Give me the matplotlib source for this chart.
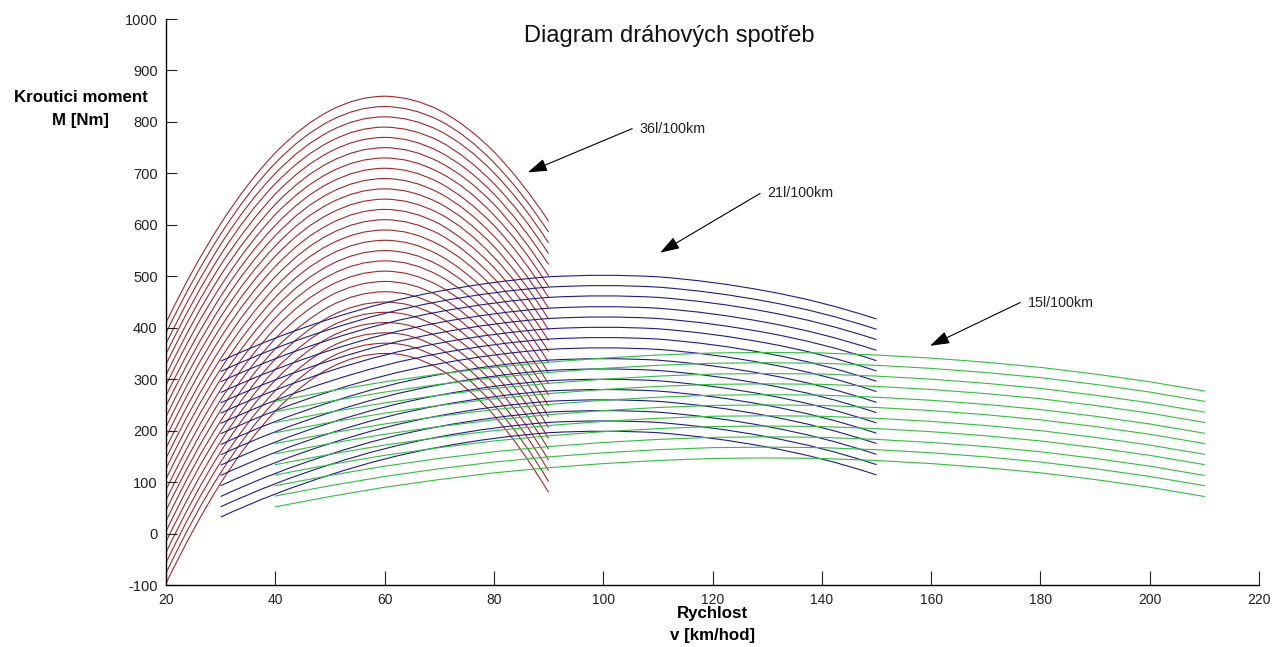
import matplotlib
matplotlib.use("Agg")
import matplotlib.pyplot as plt
from matplotlib.path import Path
from matplotlib.patches import PathPatch

# torque [Nm] along speed [km/h] for lines of constant consumption per distance
RED_V = [20, 25, 30, 35, 40, 45, 50, 55, 60, 65, 70, 75, 80, 85, 90]
RED_M = [
    [410, 513, 602, 678, 740, 788, 822, 843, 850, 843, 823, 789, 742, 681, 607],
    [390, 493, 582, 658, 720, 768, 802, 823, 830, 823, 803, 769, 721, 660, 586],
    [369, 472, 562, 638, 700, 748, 782, 803, 810, 803, 783, 749, 701, 640, 565],
    [349, 452, 542, 618, 680, 728, 762, 783, 790, 783, 763, 728, 680, 619, 544],
    [329, 432, 522, 597, 660, 708, 742, 763, 770, 763, 742, 708, 660, 598, 523],
    [308, 412, 502, 577, 640, 688, 722, 743, 750, 743, 722, 688, 640, 577, 501],
    [288, 392, 481, 557, 620, 668, 702, 723, 730, 723, 702, 668, 619, 557, 480],
    [268, 371, 461, 537, 599, 648, 682, 703, 710, 703, 682, 647, 599, 536, 459],
    [248, 351, 441, 517, 579, 628, 662, 683, 690, 683, 662, 627, 578, 515, 438],
    [227, 331, 421, 497, 559, 608, 642, 663, 670, 663, 642, 607, 558, 494, 417],
    [207, 311, 401, 477, 539, 588, 622, 643, 650, 643, 622, 587, 537, 474, 396],
    [187, 291, 381, 457, 519, 568, 602, 623, 630, 623, 602, 566, 517, 453, 375],
    [166, 270, 360, 437, 499, 548, 582, 603, 610, 603, 582, 546, 496, 432, 354],
    [146, 250, 340, 416, 479, 528, 562, 583, 590, 583, 561, 526, 476, 411, 333],
    [126, 230, 320, 396, 459, 508, 542, 563, 570, 563, 541, 505, 455, 391, 312],
    [106, 210, 300, 376, 439, 488, 522, 543, 550, 543, 521, 485, 435, 370, 291],
    [85, 189, 280, 356, 419, 468, 502, 523, 530, 523, 501, 465, 414, 349, 269],
    [65, 169, 260, 336, 399, 448, 482, 503, 510, 503, 481, 445, 394, 328, 248],
    [45, 149, 240, 316, 379, 427, 462, 483, 490, 483, 461, 424, 373, 308, 227],
    [24, 129, 219, 296, 359, 407, 442, 463, 470, 463, 441, 404, 353, 287, 206],
    [4, 109, 199, 276, 339, 387, 422, 443, 450, 443, 421, 384, 332, 266, 185],
    [-16, 88, 179, 256, 319, 367, 402, 423, 430, 423, 400, 364, 312, 245, 164],
    [-37, 68, 159, 236, 298, 347, 382, 403, 410, 403, 380, 343, 291, 224, 143],
    [-57, 48, 139, 215, 278, 327, 362, 383, 390, 383, 360, 323, 271, 204, 122],
    [-77, 28, 118, 195, 258, 307, 342, 363, 370, 363, 340, 303, 250, 183, 101],
    [-97, 7, 98, 175, 238, 287, 322, 343, 350, 343, 320, 282, 230, 162, 80],
]

BLUE_V = [30, 40, 50, 60, 70, 80, 90, 100, 110, 120, 130, 140, 150]
BLUE_TOP = [335, 380, 417, 448, 471, 488, 499, 502, 499, 488, 471, 448, 417]
BLUE_SHIFT = [0, 20, 40, 61, 81, 101, 121, 141, 162, 182, 202, 222, 242, 263, 283, 303]

GREEN_V = [40, 50, 60, 70, 80, 90, 100, 110, 120, 130,
           140, 150, 160, 170, 180, 190, 200, 210]
GREEN_TOP = [257, 277, 295, 310, 323, 333, 341, 347, 351, 352,
             351, 347, 341, 333, 323, 310, 295, 277]
GREEN_SHIFT = [0, 20, 41, 61, 82, 102, 123, 143, 164, 184, 205]

# label, arrow tip (v, M), text anchor (v, M)
NOTES = [
    ("36l/100km", (86.2, 702), (105.3, 787)),
    ("21l/100km", (110.4, 546), (128.7, 661)),
    ("15l/100km", (159.8, 365), (176.3, 449)),
]

plt.rcParams["font.family"] = ["Liberation Sans", "DejaVu Sans"]
plt.rcParams["axes.unicode_minus"] = False


def arc_path(xs, ys):
    # quadratic segments through every three consecutive samples
    verts = [(xs[0], ys[0])]
    codes = [Path.MOVETO]
    for k in range(0, len(xs) - 2, 2):
        cy = 2 * ys[k + 1] - (ys[k] + ys[k + 2]) / 2
        verts += [(xs[k + 1], cy), (xs[k + 2], ys[k + 2])]
        codes += [Path.CURVE3, Path.CURVE3]
    return Path(verts, codes)


fig = plt.figure(figsize=(12.75, 6.47), dpi=100)
ax = fig.add_axes([0.1302, 0.0958, 0.8573, 0.8748])

lw = 0.8
for row in RED_M:
    ax.add_patch(PathPatch(arc_path(RED_V, row), fill=False,
                           edgecolor="#a3262a", lw=lw))
for s in BLUE_SHIFT:
    ax.add_patch(PathPatch(arc_path(BLUE_V, [m - s for m in BLUE_TOP]),
                           fill=False, edgecolor="#1d1d8a", lw=lw))
for s in GREEN_SHIFT:
    ax.plot(GREEN_V, [m - s for m in GREEN_TOP], color="#2cc23a", lw=lw)

for txt, tip, tail in NOTES:
    ax.annotate("", xy=tip, xytext=tail,
                arrowprops=dict(arrowstyle="-|>,head_length=0.85,head_width=0.28",
                                color="black", lw=0.8, mutation_scale=14,
                                shrinkA=0, shrinkB=0))
    ax.text(tail[0] + 1.4, tail[1], txt, fontsize=10.3, color="#222222",
            va="center", ha="left")

ax.set_xlim(20, 220)
ax.set_ylim(-100, 1000)
ax.set_xticks(range(20, 221, 20))
ax.set_yticks(range(-100, 1001, 100))
for side in ("top", "right"):
    ax.spines[side].set_visible(False)
for side in ("left", "bottom"):
    ax.spines[side].set_linewidth(1.0)
ax.tick_params(axis="x", direction="in", length=10, width=0.8,
               labelsize=10, pad=6, colors="#222222")
ax.tick_params(axis="y", direction="in", length=8, width=0.8,
               labelsize=10.5, pad=6, colors="#222222")

fig.text(0.525, 0.944, "Diagram dráhových spotřeb", fontsize=17,
         ha="center", va="center", color="#111111")
fig.text(0.0635, 0.850, "Kroutici moment", fontsize=12.2,
         fontweight="bold", ha="center", va="center")
fig.text(0.0635, 0.813, "M [Nm]", fontsize=12.2,
         fontweight="bold", ha="center", va="center")
fig.text(0.559, 0.052, "Rychlost", fontsize=12.2,
         fontweight="bold", ha="center", va="center")
fig.text(0.559, 0.018, "v [km/hod]", fontsize=12.2,
         fontweight="bold", ha="center", va="center")

fig.savefig("out.png", dpi=100)
